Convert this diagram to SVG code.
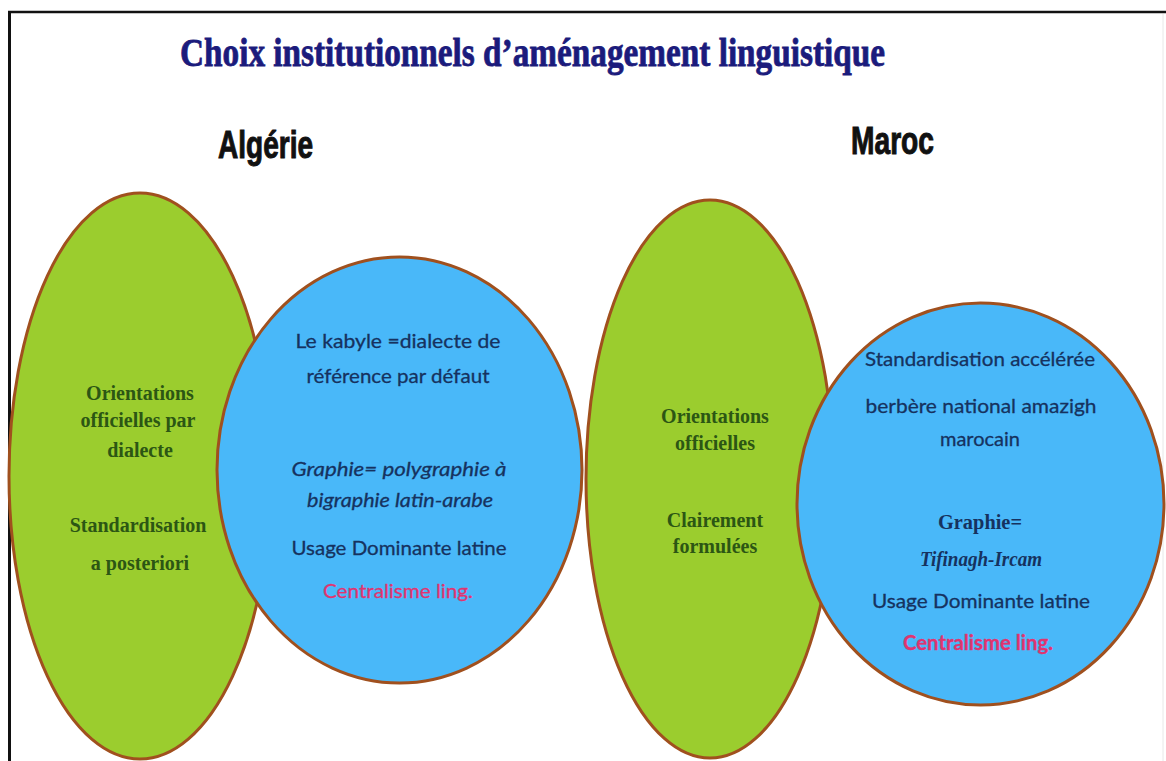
<svg xmlns="http://www.w3.org/2000/svg" width="1166" height="761" viewBox="0 0 1166 761">
<style>
  .green { fill: #9bcd2e; stroke: #a0501e; stroke-width: 3; }
  .blue { fill: #49b8f9; stroke: #a0501e; stroke-width: 3; }
  .gtxt { font-family: "Liberation Serif", "DejaVu Serif", serif; font-weight: bold; font-size: 20px; fill: #2c5614; text-anchor: middle; }
  .btxt { font-family: Lato, "Open Sans", "Liberation Sans", sans-serif; font-size: 20px; fill: #16325f; stroke: #16325f; stroke-width: 0.3; text-anchor: middle; }
  .bser { font-family: "Liberation Serif", "DejaVu Serif", serif; font-weight: bold; font-size: 20px; fill: #16325f; text-anchor: middle; }
  .pink { fill: #e03470; stroke: #e03470; }
  .it { font-style: italic; }
  .head { font-family: "Liberation Sans", Arial, sans-serif; font-weight: bold; font-size: 38px; fill: #111111; stroke: #111111; stroke-width: 1; }
  .title { font-family: "Liberation Serif", "DejaVu Serif", serif; font-weight: bold; font-size: 40px; fill: #1b1b7c; stroke: #1b1b7c; stroke-width: 0.8; }
</style>
<rect x="0" y="0" width="1166" height="761" fill="#ffffff"/>
<g id="frame">
  <line x1="8" y1="12" x2="1166" y2="12" stroke="#111" stroke-width="2.5"/>
  <line x1="9.5" y1="11" x2="9.5" y2="761" stroke="#111" stroke-width="3"/>
  <line x1="1163" y1="14" x2="1163" y2="761" stroke="#e8e8e8" stroke-width="1"/>
</g>
<g id="title">
  <text class="title" x="180" y="66" textLength="705" lengthAdjust="spacingAndGlyphs">Choix institutionnels d’aménagement linguistique</text>
</g>
<g id="head-algerie">
  <text class="head" x="218" y="158" textLength="95" lengthAdjust="spacingAndGlyphs">Algérie</text>
</g>
<g id="head-maroc">
  <text class="head" x="851" y="154" textLength="83" lengthAdjust="spacingAndGlyphs">Maroc</text>
</g>
<g id="algerie-orientations">
  <ellipse class="green" cx="140" cy="476" rx="131" ry="283"/>
  <text class="gtxt" x="140" y="400">Orientations</text>
  <text class="gtxt" x="138" y="427">officielles par</text>
  <text class="gtxt" x="140" y="457">dialecte</text>
  <text class="gtxt" x="138" y="532">Standardisation</text>
  <text class="gtxt" x="140" y="570">a posteriori</text>
</g>
<g id="algerie-choix">
  <ellipse class="blue" cx="399.5" cy="470" rx="182.5" ry="213"/>
  <text class="btxt" x="398" y="348" textLength="205" lengthAdjust="spacingAndGlyphs">Le kabyle =dialecte de</text>
  <text class="btxt" x="398" y="383" textLength="183" lengthAdjust="spacingAndGlyphs">référence par défaut</text>
  <text class="btxt it" x="399" y="476" textLength="215" lengthAdjust="spacingAndGlyphs">Graphie= polygraphie à</text>
  <text class="btxt it" x="400" y="507" textLength="186" lengthAdjust="spacingAndGlyphs">bigraphie latin-arabe</text>
  <text class="btxt" x="399" y="555" textLength="215" lengthAdjust="spacingAndGlyphs">Usage Dominante latine</text>
  <text class="btxt pink" x="398" y="598" textLength="150" lengthAdjust="spacingAndGlyphs">Centralisme ling.</text>
</g>
<g id="maroc-orientations">
  <ellipse class="green" cx="710" cy="479" rx="124" ry="279"/>
  <text class="gtxt" x="715" y="423">Orientations</text>
  <text class="gtxt" x="715" y="450">officielles</text>
  <text class="gtxt" x="715" y="527">Clairement</text>
  <text class="gtxt" x="715" y="553">formulées</text>
</g>
<g id="maroc-choix">
  <ellipse class="blue" cx="980.5" cy="504" rx="183.5" ry="201"/>
  <text class="btxt" x="980" y="366" textLength="230" lengthAdjust="spacingAndGlyphs">Standardisation accélérée</text>
  <text class="btxt" x="981" y="413" textLength="231" lengthAdjust="spacingAndGlyphs">berbère national amazigh</text>
  <text class="btxt" x="980" y="446">marocain</text>
  <text class="bser" x="980" y="529" textLength="84" lengthAdjust="spacingAndGlyphs">Graphie=</text>
  <text class="bser it" x="981" y="566" textLength="122" lengthAdjust="spacingAndGlyphs">Tifinagh-Ircam</text>
  <text class="btxt" x="981" y="608" textLength="218" lengthAdjust="spacingAndGlyphs">Usage Dominante latine</text>
  <text class="btxt pink" x="978" y="650" font-weight="bold" textLength="150" lengthAdjust="spacingAndGlyphs">Centralisme ling.</text>
</g>
</svg>
